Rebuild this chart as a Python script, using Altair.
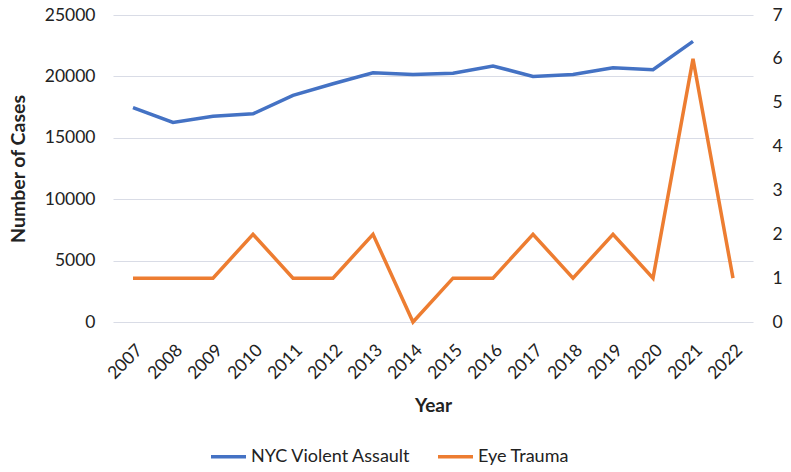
import altair as alt
import pandas as pd

# Yearly series
years = ["2007", "2008", "2009", "2010", "2011", "2012", "2013", "2014",
         "2015", "2016", "2017", "2018", "2019", "2020", "2021", "2022"]
violent_assault = [17450, 16250, 16750, 16950, 18450, 19400, 20300, 20150,
                   20250, 20850, 20000, 20150, 20700, 20550, 22850]
eye_trauma = [1, 1, 1, 2, 1, 1, 2, 0, 1, 1, 2, 1, 2, 1, 6, 1]

series_names = ["NYC Violent Assault", "Eye Trauma"]
series_colors = ["#4472C4", "#ED7D31"]

FONT = "Lato"
TEXT = "#222222"

assault_df = pd.DataFrame({"year": years[:len(violent_assault)], "value": violent_assault})
trauma_df = pd.DataFrame({"year": years, "value": eye_trauma})

x_enc = alt.X(
    "year:O",
    sort=years,
    scale=alt.Scale(type="point", padding=0.5),
    axis=alt.Axis(
        title="Year", labelAngle=-45, labelFontSize=17.5, labelFont=FONT,
        labelColor=TEXT, titleFontSize=19, titleFont=FONT, titleColor=TEXT,
        titleFontWeight="bold", titlePadding=14, domain=False, ticks=False,
        labelPadding=19, grid=False,
    ),
)

color_enc = alt.Color(
    "series:N",
    scale=alt.Scale(domain=series_names, range=series_colors),
    legend=alt.Legend(
        title=None, orient="none", direction="horizontal",
        legendX=96, legendY=422, symbolType="stroke", symbolSize=1225,
        symbolStrokeWidth=3.5, labelFontSize=18, labelFont=FONT,
        labelColor=TEXT, columnPadding=20, labelOffset=3,
    ),
)

assault_line = (
    alt.Chart(assault_df)
    .transform_calculate(series="'NYC Violent Assault'")
    .mark_line(strokeWidth=3.5)
    .encode(
        x=x_enc,
        y=alt.Y(
            "value:Q",
            scale=alt.Scale(domain=[0, 25000]),
            axis=alt.Axis(
                title="Number of Cases", orient="left", values=[0, 5000, 10000, 15000, 20000, 25000],
                format="d", labelFontSize=17.5, labelFont=FONT, labelColor=TEXT,
                titleFontSize=19.5, titleFont=FONT, titleColor=TEXT, titleFontWeight="bold",
                domain=False, ticks=False, labelPadding=18, titlePadding=16,
                grid=True, gridColor="#d9dce6", gridWidth=1.2,
            ),
        ),
        color=color_enc,
    )
)

trauma_line = (
    alt.Chart(trauma_df)
    .transform_calculate(series="'Eye Trauma'")
    .mark_line(strokeWidth=3.5)
    .encode(
        x=x_enc,
        y=alt.Y(
            "value:Q",
            scale=alt.Scale(domain=[0, 7]),
            axis=alt.Axis(
                title=None, orient="right", values=[0, 1, 2, 3, 4, 5, 6, 7],
                labelFontSize=17.5, labelFont=FONT, labelColor=TEXT,
                domain=False, ticks=False, labelPadding=19, grid=False,
            ),
        ),
        color=color_enc,
    )
)

chart = (
    alt.layer(assault_line, trauma_line)
    .resolve_scale(y="independent")
    .properties(
        width=640,
        height=307,
        autosize=alt.AutoSizeParams(type="none"),
        padding={"left": 113, "top": 15, "right": 38, "bottom": 150},
        background="white",
    )
    .configure_view(stroke=None)
)

chart.save("out.html", embed_options={"renderer": "svg", "actions": False})
